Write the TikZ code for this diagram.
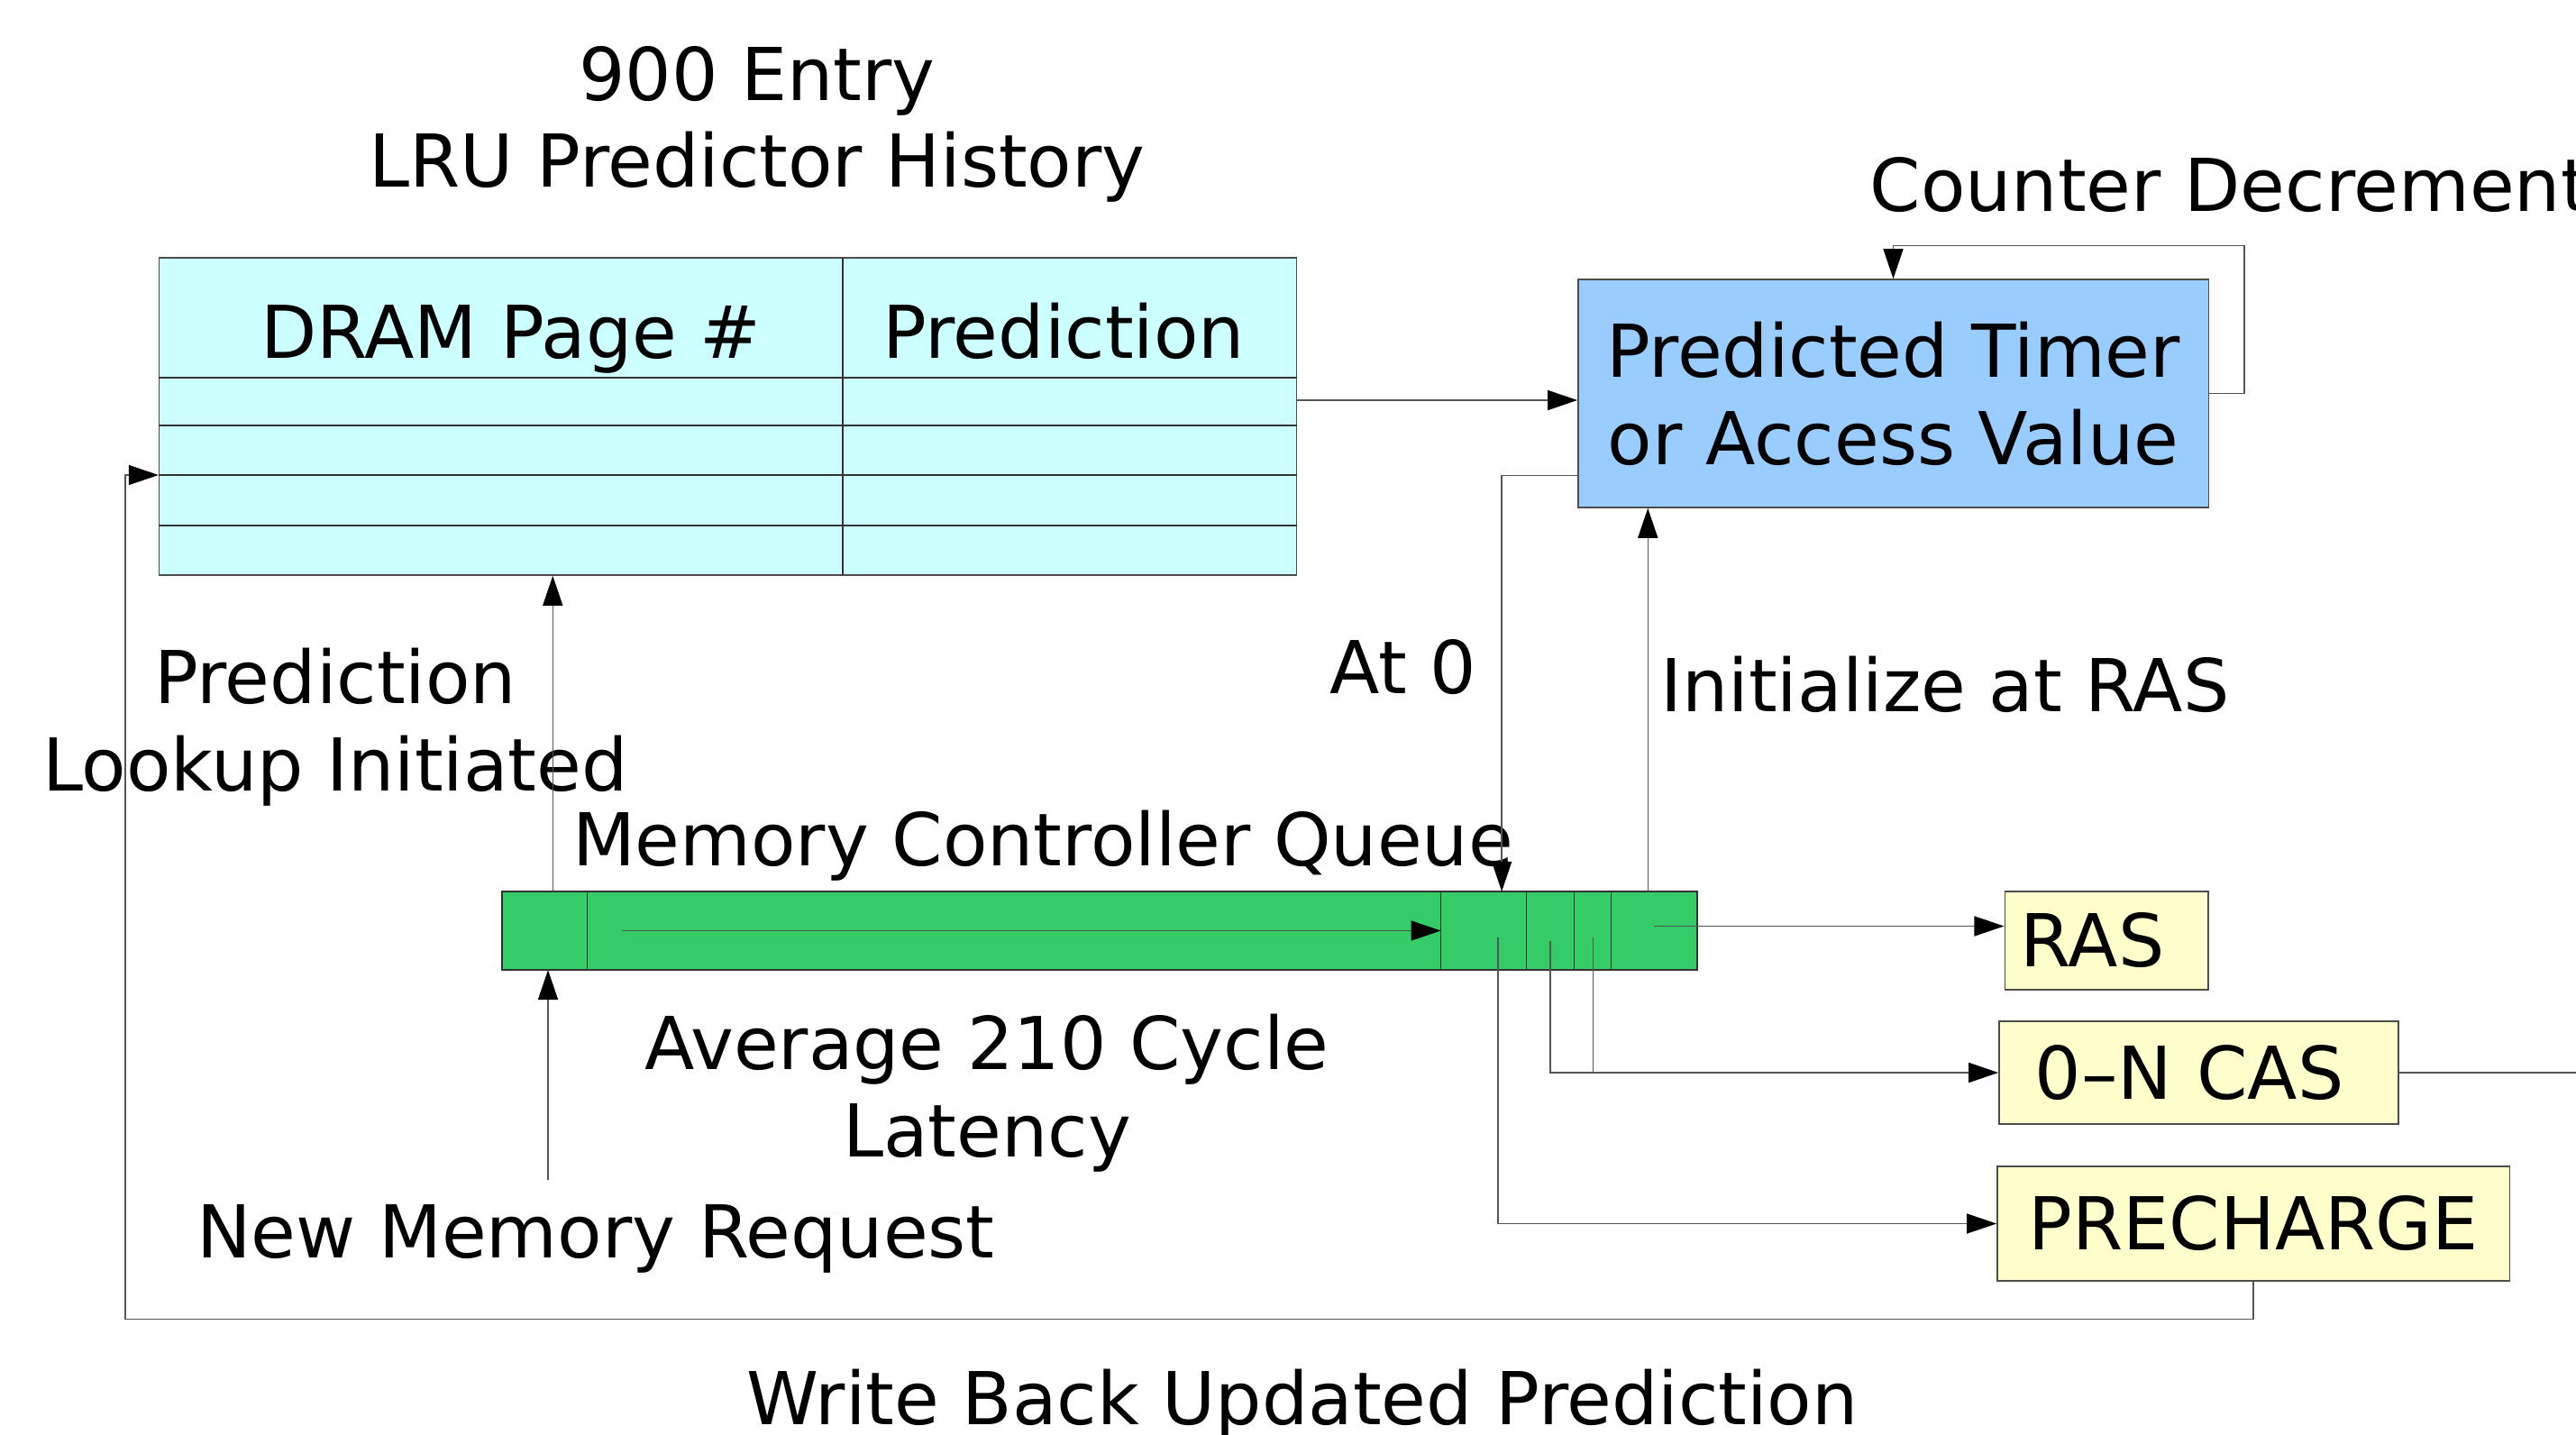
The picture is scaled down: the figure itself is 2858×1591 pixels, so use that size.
\documentclass[tikz,border=0pt]{standalone}
\usepackage{fontspec}
\setmainfont{DejaVu Sans}
\definecolor{histcyan}{HTML}{CCFFFF}
\definecolor{timerblue}{HTML}{99CCFF}
\definecolor{queuegreen}{HTML}{33CC66}
\definecolor{cmdyellow}{HTML}{FFFFCC}
\definecolor{wiregray}{HTML}{555555}
\usetikzlibrary{arrows.meta, positioning, calc}

\begin{document}
\begin{tikzpicture}[x=0.01cm, y=-0.01cm,
    font=\fontsize{23}{27.5}\selectfont,
    wire/.style={draw=wiregray, line width=0.4pt},
    feed/.style={wire, -{Triangle[length=3.3mm, width=2.2mm, color=black]}},
    qcell/.style={draw=black!80, fill=queuegreen, minimum height=0.87cm,
                  inner sep=0pt, outer sep=0pt, anchor=west},
    cmdbox/.style={draw=black!70, fill=cmdyellow, inner sep=0pt},
    caption/.style={anchor=base, inner sep=0pt, align=center}]
  \useasboundingbox (0,0) rectangle (2858,1591);

  % predictor history table
  \node[caption] (title) at (840,208) {900 Entry\\LRU Predictor History};
  \node[draw=black!70, fill=histcyan, minimum width=12.61cm,
        minimum height=3.52cm] (hist) at (807.5,462) {};
  \foreach \y in {419,472,527,583}
    \draw[black!80, line width=0.4pt] (hist.west |- 0,\y) -- (hist.east |- 0,\y);
  \draw[black!80, line width=0.4pt] (935,286) -- (935,638);
  \node[caption] (pagehd) at (567,397) {DRAM Page \#};
  \node[caption] (predhd) at (1180,397) {Prediction};

  % timer
  \node[draw=black!70, fill=timerblue, minimum width=6.99cm, minimum height=2.53cm,
        align=center, inner sep=0pt] (timer) at (2100.5,436.5)
        {Predicted Timer\\or Access Value};
  \node[anchor=base west, inner sep=0pt] (decr) at (2074,235) {Counter Decrement};

  % queue
  \node[qcell, minimum width=0.945cm] (q0) at (557,1032.5) {};
  \node[qcell, minimum width=9.465cm, right=0pt of q0] (q1) {};
  \node[qcell, minimum width=0.95cm, right=0pt of q1] (q2) {};
  \node[qcell, minimum width=0.53cm, right=0pt of q2] (q3) {};
  \node[qcell, minimum width=0.41cm, right=0pt of q3] (q4) {};
  \node[qcell, minimum width=0.95cm, right=0pt of q4] (q5) {};

  % DRAM commands
  \node[cmdbox, inner xsep=0.175cm, text width=1.905cm, align=left,
        minimum height=1.09cm] (ras) at (2337,1043.5) {RAS};
  \node[cmdbox, inner xsep=0.4cm, text width=3.63cm, align=left,
        minimum height=1.14cm] (cas) at (2439.5,1190) {0–N CAS};
  \node[cmdbox, minimum width=5.68cm, minimum height=1.27cm] (pre) at (2500,1357.5) {PRECHARGE};

  % labels
  \node[caption] (lookup) at (372,877) {Prediction\\Lookup Initiated};
  \node[caption] (atzero) at (1557,769) {At 0};
  \node[caption] (initras) at (2158,789) {Initialize at RAS};
  \node[caption] (qlabel) at (1157,960) {Memory Controller Queue};
  \node[caption] (latency) at (1095,1283) {Average 210 Cycle\\Latency};
  \node[caption] (newreq) at (661,1395) {New Memory Request};
  \node[caption] (wback) at (1445,1580) {Write Back Updated Prediction};

  % connectors
  \coordinate (reqtail) at (608,1309);
  \draw[feed] (reqtail) -- (reqtail |- q0.south);
  \coordinate (lookfoot) at ($(q0.north)+(9,0)$);
  \draw[feed] (lookfoot) -- (lookfoot |- hist.south);
  \draw[feed] ($(q1.west)+(38,0)$) -- (q1.east);
  \coordinate (histout) at ($(hist.east)+(0,-18)$);
  \draw[feed] (histout) -- (histout -| timer.west);
  \draw[feed] (timer.east) -- ++(39,0) |- ($(timer.north)+(0,-37)$) -- (timer.north);
  \coordinate (zerotap) at ($(timer.south west)+(0,-36)$);
  \draw[feed] (zerotap) -| ($(q2.north)+(20,0)$);
  \coordinate (rasfoot) at ($(q5.north)+(-7,0)$);
  \draw[feed] (rasfoot) -- (rasfoot |- timer.south);
  \coordinate (rastap) at ($(q5.center)+(0,-5)$);
  \draw[feed] (rastap) -- (rastap -| ras.west);
  \coordinate (castap) at ($(q3.center)+(0,11)$);
  \draw[feed] (castap) |- (cas.west);
  \coordinate (castwo) at ($(q4.center)+(0,7)$);
  \draw[wire] (castwo) -- (castwo |- cas.west);
  \draw[wire] (cas.east) -- ++(250,0);
  \coordinate (pretap) at ($(q2.center)+(16,7)$);
  \draw[feed] (pretap) |- (pre.west);
  \draw[feed] (pre.south) -- ++(0,42) -| ($(hist.west)+(-37,65)$) -- ($(hist.west)+(0,65)$);
\end{tikzpicture}
\end{document}
